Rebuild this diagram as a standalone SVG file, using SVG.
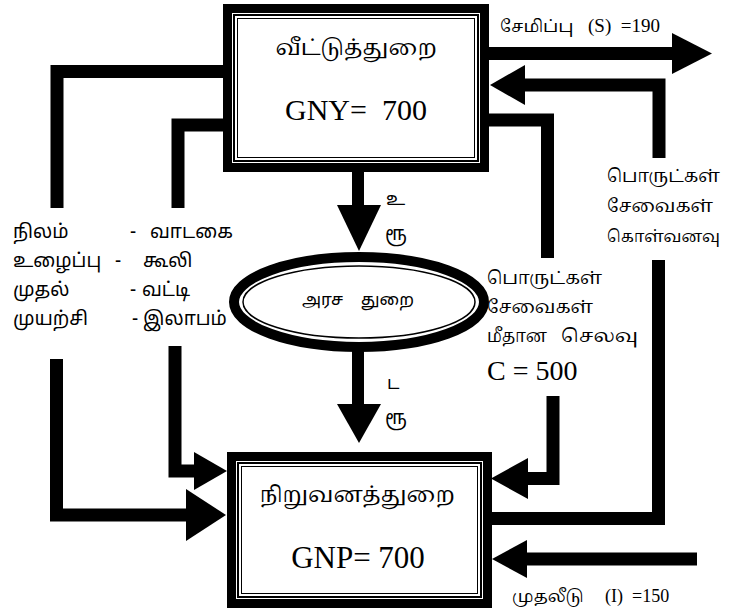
<svg xmlns="http://www.w3.org/2000/svg" width="732" height="611" viewBox="0 0 732 611">
<style>
.bar{fill:none;stroke:#000;stroke-width:13;stroke-linejoin:miter;stroke-linecap:butt}
.head{fill:#000}
.thick{fill:#fff;stroke:#000;stroke-width:9}
.thin1{fill:none;stroke:#000;stroke-width:2}
.thin2{fill:none;stroke:#000;stroke-width:1}
.ta{font-family:"Noto Serif Tamil","Noto Sans Tamil","Lohit Tamil","Noto Sans",sans-serif;fill:#000}
.tas{font-family:"Noto Sans Tamil","Lohit Tamil","Noto Sans",sans-serif;fill:#000}
.lat{font-family:"Liberation Serif",serif;fill:#000}
</style>
<rect width="732" height="611" fill="#fff"/>
<g id="connectors">
<path class="bar" d="M224 71.5 H57 V208"/>
<path class="bar" d="M224 125 H178 V208"/>
<path class="bar" d="M56.5 359 V515 H187"/>
<polygon class="head" points="186,489 226,515 186,541"/>
<path class="bar" d="M175 346 V471 H195"/>
<polygon class="head" points="194,452 227,471 194,490"/>
<path class="bar" d="M489 53.5 H674"/>
<polygon class="head" points="672,33 712,53.5 672,74"/>
<path class="bar" d="M659 158 V85 H523"/>
<polygon class="head" points="525,65 490,85 525,105"/>
<path class="bar" d="M489 120 H547.5 V258"/>
<path class="bar" d="M553 396 V478.5 H526"/>
<polygon class="head" points="528,458 491,478.5 528,499"/>
<path class="bar" d="M492 518.5 H658.5 V260"/>
<path class="bar" d="M697 559 H525"/>
<polygon class="head" points="527,540 492,559 527,578"/>
<rect x="352" y="172" width="12" height="35" fill="#000"/>
<polygon class="head" points="337,205 381,205 359,251"/>
<rect x="352" y="348" width="12" height="58" fill="#000"/>
<polygon class="head" points="337,404 381,404 359,443"/>
</g>
<g id="households">
<rect class="thick" x="227.5" y="8.5" width="257" height="159"/>
<rect class="thin1" x="234" y="15" width="244" height="146"/>
<rect class="thin2" x="237.5" y="18.5" width="237" height="139"/>
<text class="ta" x="356" y="55" font-size="22" text-anchor="middle">வீட்டுத்துறை</text>
<text class="lat" x="356" y="120" font-size="30" text-anchor="middle" xml:space="preserve">GNY=  700</text>
</g>
<g id="government">
<ellipse cx="359" cy="302" rx="125" ry="45" fill="#fff" stroke="#000" stroke-width="10"/>
<ellipse cx="359" cy="302" rx="116" ry="36" fill="none" stroke="#000" stroke-width="1.5"/>
<text class="tas" x="358" y="305" font-size="17" text-anchor="middle" xml:space="preserve">அரச    துறை</text>
</g>
<g id="firms">
<rect class="thick" x="231.5" y="456.5" width="256" height="147"/>
<rect class="thin1" x="238" y="463" width="243" height="134"/>
<rect class="thin2" x="241.5" y="466.5" width="236" height="127"/>
<text class="ta" x="357" y="502" font-size="22" text-anchor="middle">நிறுவனத்துறை</text>
<text class="lat" x="358" y="568" font-size="31" text-anchor="middle">GNP= 700</text>
</g>
<g id="labels">
<text class="tas" font-size="19"><tspan x="13" y="238">நிலம்</tspan><tspan x="130" y="238">-</tspan><tspan x="150" y="238">வாடகை</tspan></text>
<text class="tas" font-size="19"><tspan x="13" y="267">உழைப்பு</tspan><tspan x="115" y="267">-</tspan><tspan x="143" y="267">கூலி</tspan></text>
<text class="tas" font-size="19"><tspan x="13" y="296">முதல்</tspan><tspan x="130" y="296">-</tspan><tspan x="142" y="296">வட்டி</tspan></text>
<text class="tas" font-size="19"><tspan x="13" y="325">முயற்சி</tspan><tspan x="132" y="325">-</tspan><tspan x="143" y="325">இலாபம்</tspan></text>
<text class="ta" x="500" y="32" font-size="17">சேமிப்பு</text>
<text class="lat" x="588" y="32" font-size="19" xml:space="preserve">(S)  =190</text>
<text class="ta" x="607" y="182" font-size="18" textLength="113" lengthAdjust="spacingAndGlyphs">பொருட்கள்</text>
<text class="ta" x="607" y="212" font-size="18" textLength="106" lengthAdjust="spacingAndGlyphs">சேவைகள்</text>
<text class="ta" x="607" y="242" font-size="17" textLength="113" lengthAdjust="spacingAndGlyphs">கொள்வனவு</text>
<text class="ta" x="487" y="284" font-size="18" textLength="115" lengthAdjust="spacingAndGlyphs">பொருட்கள்</text>
<text class="ta" x="487" y="313" font-size="18" textLength="106" lengthAdjust="spacingAndGlyphs">சேவைகள்</text>
<text class="ta" x="487" y="342" font-size="18" textLength="60" lengthAdjust="spacingAndGlyphs">மீதான</text>
<text class="ta" x="561" y="342" font-size="18" textLength="77" lengthAdjust="spacingAndGlyphs">செலவு</text>
<text class="lat" x="487" y="380" font-size="28">C = 500</text>
<text class="ta" x="512" y="602" font-size="17">முதலீடு</text>
<text class="lat" x="605" y="602" font-size="18" xml:space="preserve">(I)  =150</text>
<text class="tas" x="386" y="205" font-size="18">உ</text>
<text class="tas" x="385" y="240" font-size="19">ரூ</text>
<text class="tas" x="387" y="389" font-size="18">ட</text>
<text class="tas" x="385" y="424" font-size="19">ரூ</text>
</g>
</svg>
